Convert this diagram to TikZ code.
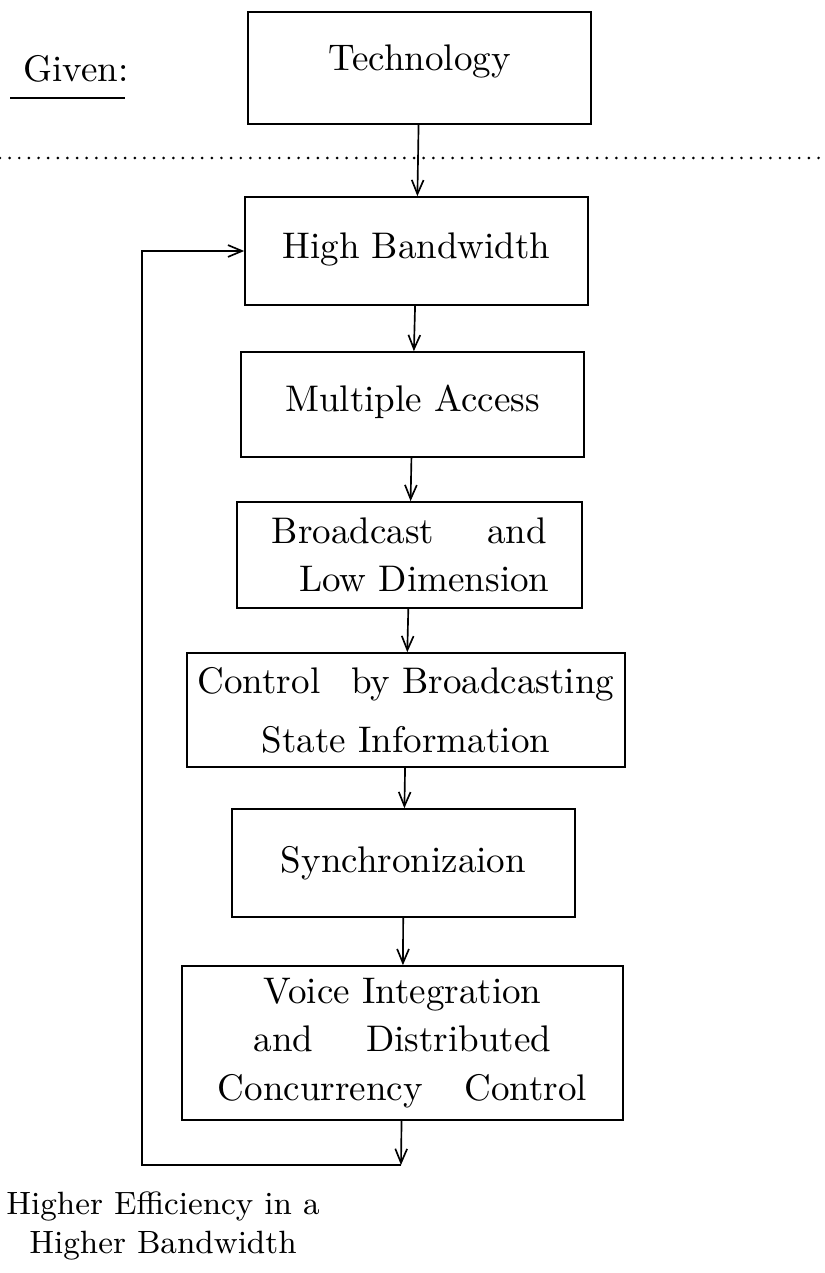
\documentclass[tikz,border=0pt]{standalone}
\usepackage{tikz}
\usetikzlibrary{shapes,arrows,arrows.meta}
\usetikzlibrary{calc}
\usetikzlibrary{positioning}

\begin{document}
\begin{tikzpicture}[x=0.27pt, y=-0.27pt,
	stage_node/.style 2 args={rectangle, draw, line width=0.45pt, inner sep=2pt, align=center, font=\fontsize{10}{13}\selectfont, minimum width=#1*0.27pt, minimum height=#2*0.27pt},
	flow_arrow/.style={line width=0.45pt, -{Straight Barb[length=3.8pt,width=3.2pt]}}]
	
	\useasboundingbox (0,0) rectangle (825,1273);
	
	\node (given) at (76,69) {Given:};
	\coordinate (given_l) at (10,98);
	\coordinate (given_r) at (125,98);
	\draw[line width=0.45pt] (given_l) -- (given_r);
	
	\coordinate (border_l) at (0,158);
	\coordinate (border_r) at (820,158);
	\draw[line width=0.8pt, line cap=round, dash pattern=on 0pt off 2.6pt] (border_l) -- (border_r);
	
	\node[stage_node={343}{112}, text depth=5.5pt] (tech) at (419.5,68) {Technology};
	\node[stage_node={343}{108}, text depth=3pt] (bw) at (416.5,251) {High Bandwidth};
	\node[stage_node={343}{105}, text depth=3.5pt] (access) at (412.5,404.5) {Multiple Access};
	\node[stage_node={345}{106}] (bcast) at (409.5,555) {Broadcast\hspace{11pt} and\\\hspace*{8pt}Low Dimension};
	\node[stage_node={438}{114}] (ctrl) at (406,710) {Control\hspace{5pt} by Broadcasting\\[3pt]State Information};
	\node[stage_node={343}{108}] (sync) at (403.5,863) {Synchronizaion};
	\node[stage_node={441}{154}] (voice) at (402.5,1043) {Voice Integration\\and\hspace{11pt} Distributed\\Concurrency\hspace{8pt} Control};
	
	\coordinate (loop_end) at (401,1165);
	\coordinate (loop_left) at (142,1165);
	
	\node[align=center, font=\fontsize{8.7}{10.3}\selectfont] (result) at (163,1226) {Higher Efficiency in a\\Higher Bandwidth};
	
	\draw[flow_arrow] (tech) -- (bw);
	\draw[flow_arrow] (bw) -- (access);
	\draw[flow_arrow] (access) -- (bcast);
	\draw[flow_arrow] (bcast) -- (ctrl);
	\draw[flow_arrow] (ctrl) -- (sync);
	\draw[flow_arrow] (sync) -- (voice);
	\draw[flow_arrow] (voice) -- (loop_end);
	\draw[flow_arrow] (loop_end) -- (loop_left) |- (bw.west);
\end{tikzpicture}
\end{document}
